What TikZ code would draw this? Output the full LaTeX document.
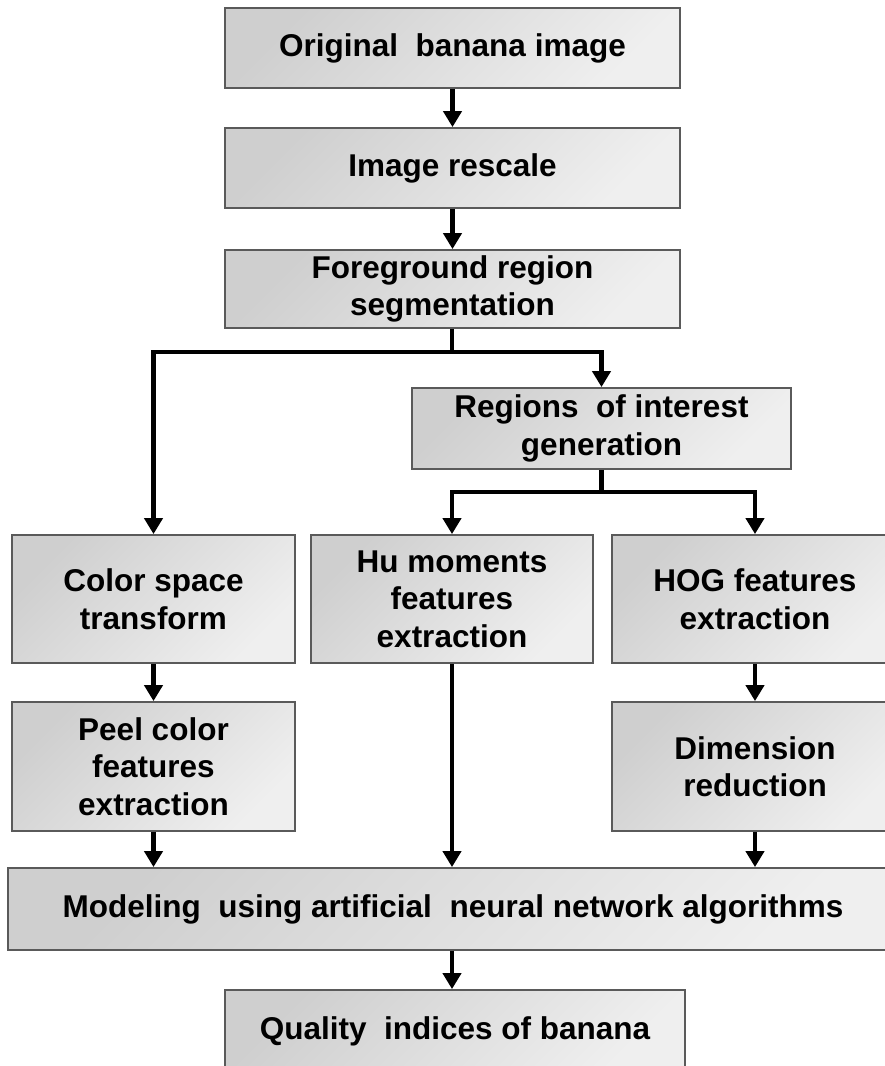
\documentclass[tikz,border=0pt]{standalone}
\usepackage{fontspec}
\setmainfont{Liberation Sans}
\usetikzlibrary{arrows.meta}
\definecolor{boxdark}{HTML}{CFCFCF}
\definecolor{boxlight}{HTML}{EFEFEF}
\definecolor{boxedge}{HTML}{5A5A5A}
\tikzset{
  stepbox/.style={draw=boxedge, line width=1.8pt, top color=boxdark, bottom color=boxlight,
    shading angle=45, inner sep=0pt, align=center,
    font=\fontsize{31.5}{37.5}\selectfont\bfseries},
  link/.style={line width=4.6pt, black},
  arr/.style={link, -{Triangle[length=16pt,width=18pt]}},
}
\begin{document}
\begin{tikzpicture}[x=1pt,y=-1pt]
\useasboundingbox (0,0) rectangle (885,1066);
\clip (0,0) rectangle (885,1066);
\fill[white] (0,0) rectangle (885,1066);

% main column
\node[stepbox, minimum width=455pt, minimum height=80pt] (orig) at (452.5,48) {Original~ banana image};
\node[stepbox, minimum width=455pt, minimum height=80pt] (resc) at (452.5,168) {Image rescale};
\node[stepbox, minimum width=455pt, minimum height=78pt] (fg) at (452.5,289) {Foreground region\\segmentation};
\node[stepbox, minimum width=379pt, minimum height=81pt] (roi) at (601.5,428.5) {Regions~ of interest\\generation};

% feature branches
\node[stepbox, minimum width=283pt, minimum height=128pt] (color) at (153.5,599) {Color space\\transform};
\node[stepbox, minimum width=282pt, minimum height=128pt] (hu) at (452,599) {Hu moments\\features\\extraction};
\node[stepbox, minimum width=286pt, minimum height=128pt] (hog) at (755,599) {HOG features\\extraction};
\node[stepbox, minimum width=283pt, minimum height=129pt] (peel) at (153.5,766.5) {Peel color\\features\\extraction};
\node[stepbox, minimum width=286pt, minimum height=129pt] (dim) at (755,766.5) {Dimension\\reduction};

% modelling and output
\node[stepbox, minimum width=890pt, minimum height=82pt] (model) at (453,909) {Modeling~ using artificial~ neural network algorithms};
\node[stepbox, minimum width=460pt, minimum height=82pt] (qual) at (455,1031) {Quality~ indices of banana};

% connectors
\draw[arr] (orig) -- (resc);
\draw[arr] (resc) -- (fg);
\coordinate (split1) at (452,352);
\draw[arr] (fg.south -| split1) -- (split1) -| (roi.north);
\draw[arr] (split1) -| (color.north);
\coordinate (split2) at (601.5,492);
\draw[arr] (roi.south) -- (split2) -| (hog.north);
\draw[arr] (split2) -| (hu.north);
\draw[arr] (color) -- (peel);
\draw[arr] (hog) -- (dim);
\draw[arr] (peel.south) -- (peel.south |- model.north);
\draw[arr] (hu.south) -- (hu.south |- model.north);
\draw[arr] (dim.south) -- (dim.south |- model.north);
\draw[arr] (model.south -| 452,0) -- (qual.north -| 452,0);
\end{tikzpicture}
\end{document}
